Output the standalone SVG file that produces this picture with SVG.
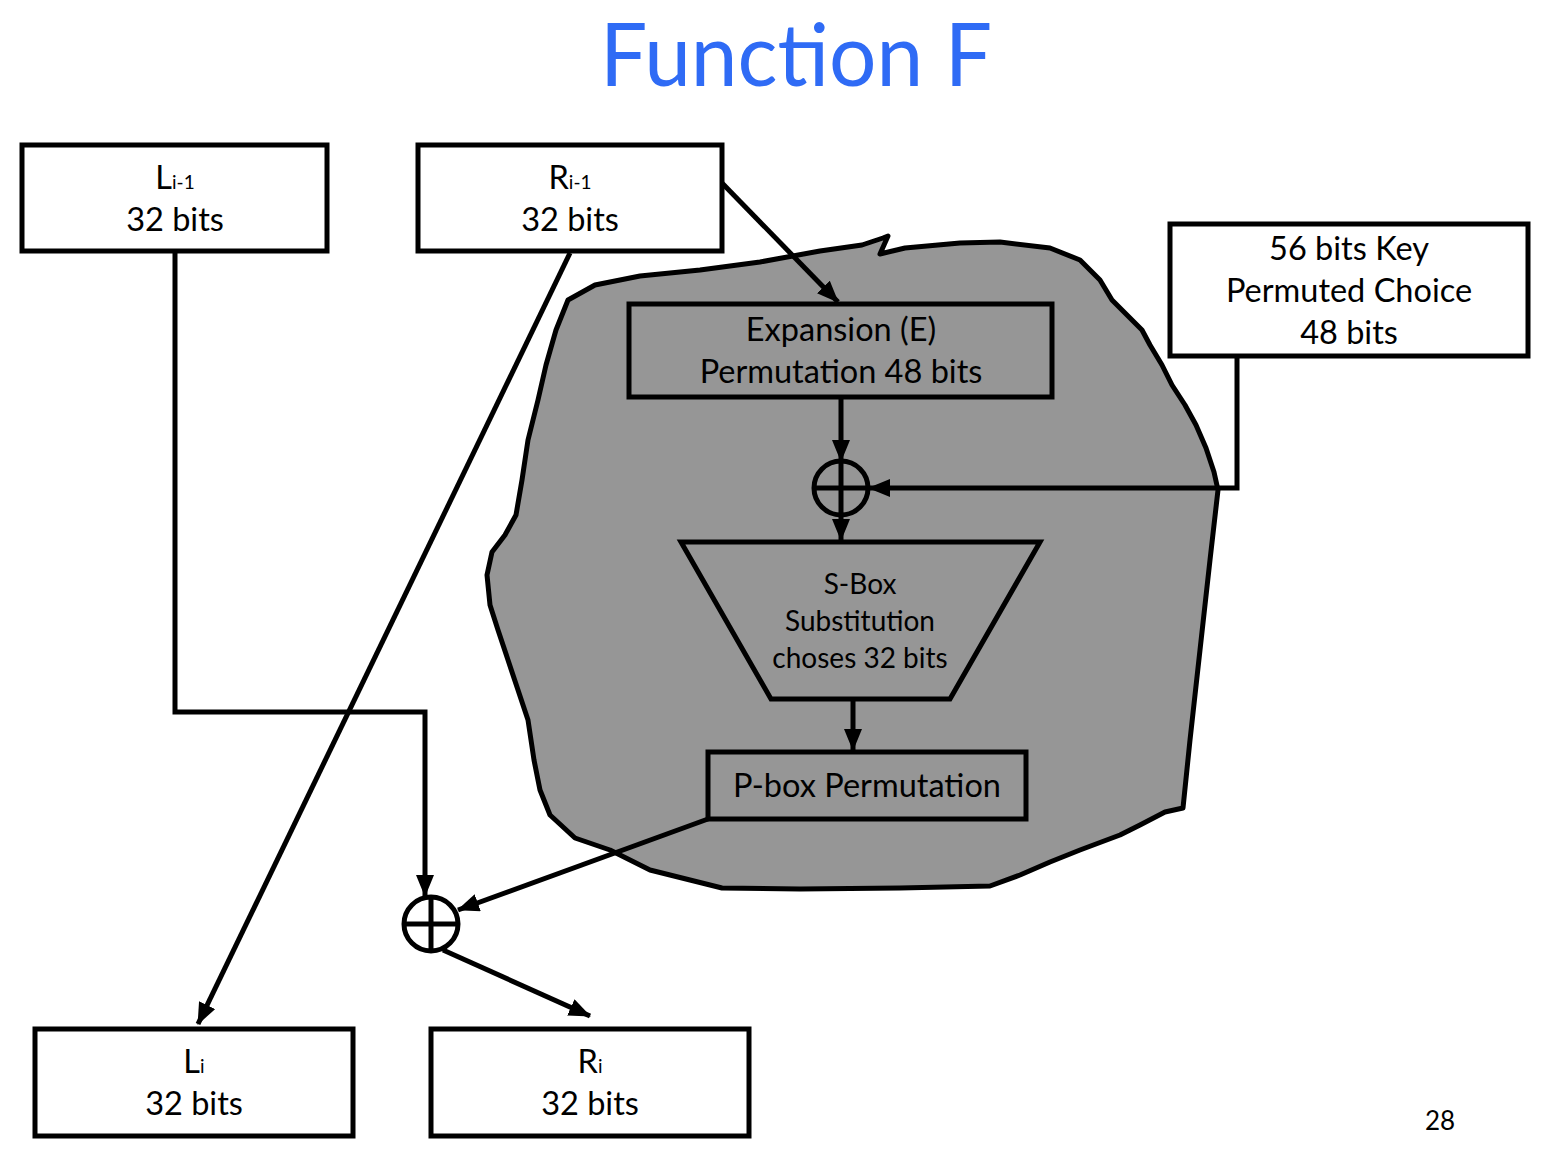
<svg xmlns="http://www.w3.org/2000/svg" width="1556" height="1158" viewBox="0 0 1556 1158">
<defs>
<marker id="ah" markerUnits="userSpaceOnUse" markerWidth="22" markerHeight="18" refX="21" refY="9" orient="auto">
<path d="M0,0 L22,9 L0,18 z" fill="#000"/>
</marker>
<style>
.box{fill:#fff;stroke:#000;stroke-width:5}
.gbox{fill:#969696;stroke:#000;stroke-width:5}
.t{font-family:Lato,"Open Sans",sans-serif;font-size:32.5px;fill:#000;text-anchor:middle}
.ts{font-family:Lato,"Open Sans",sans-serif;font-size:28px;fill:#000;text-anchor:middle}
.sub{font-size:19px}
.ln{fill:none;stroke:#000;stroke-width:5}
.arr{fill:none;stroke:#000;stroke-width:5;marker-end:url(#ah)}
.xor{fill:none;stroke:#000;stroke-width:5}
</style>
</defs>
<rect width="1556" height="1158" fill="#fff"/>
<text x="796" y="86" font-family="Lato,'Open Sans',sans-serif" font-size="88" fill="#2F6BF5" text-anchor="middle" textLength="392" lengthAdjust="spacingAndGlyphs">Function F</text>

<g id="blob">
<path d="M568,300 L595,285 L640,276 L700,270 L760,262 L820,251 L862,245 L883,238 L888,236 L880,254 L905,248 L960,243 L1000,242 L1050,248 L1080,260 L1100,280 L1112,300 L1130,318 L1142,330 L1150,345 L1162,365 L1172,385 L1185,405 L1196,425 L1206,448 L1214,472 L1218,490 L1210,560 L1200,650 L1190,740 L1183,808 L1165,812 L1140,825 L1120,835 L1080,850 L1050,862 L1020,875 L990,886 L900,888 L800,889 L722,888 L690,880 L650,870 L610,850 L575,838 L550,815 L540,790 L534,760 L528,720 L518,690 L508,660 L498,630 L490,605 L487,575 L492,552 L505,535 L516,515 L522,480 L528,440 L538,400 L546,365 L556,330 Z" fill="#969696" stroke="#000" stroke-width="5" stroke-linejoin="round"/>
</g>

<g id="connectors">
<path class="arr" d="M175,251 L175,712 L425,712 L425,896"/>
<path class="arr" d="M570,253 L198,1024"/>
<path class="arr" d="M722,183 L838,302"/>
<path class="arr" d="M841,397 L841,461"/>
<path class="arr" d="M841,515 L841,540"/>
<path class="arr" d="M1237,356 L1237,488 L869,488"/>
<path class="arr" d="M853,699 L853,750"/>
<path class="arr" d="M708,819 L458,910"/>
<path class="arr" d="M443,950 L590,1016"/>
</g>

<g id="xor1">
<circle cx="841" cy="488" r="27" class="xor"/>
<line x1="814" y1="488" x2="868" y2="488" class="xor"/>
<line x1="841" y1="461" x2="841" y2="515" class="xor"/>
</g>
<g id="xor2">
<circle cx="431" cy="924" r="27" class="xor"/>
<line x1="404" y1="924" x2="458" y2="924" class="xor"/>
<line x1="431" y1="897" x2="431" y2="951" class="xor"/>
</g>

<g id="Li-1">
<rect class="box" x="22" y="145" width="305" height="106"/>
<text class="t" x="175" y="189">L<tspan class="sub">i-1</tspan></text>
<text class="t" x="175" y="231">32 bits</text>
</g>
<g id="Ri-1">
<rect class="box" x="418" y="145" width="304" height="106"/>
<text class="t" x="570" y="189">R<tspan class="sub">i-1</tspan></text>
<text class="t" x="570" y="231">32 bits</text>
</g>
<g id="key">
<rect class="box" x="1170" y="224" width="358" height="132"/>
<text class="t" x="1349" y="260">56 bits Key</text>
<text class="t" x="1349" y="302">Permuted Choice</text>
<text class="t" x="1349" y="344">48 bits</text>
</g>
<g id="expansion">
<rect class="gbox" x="629" y="304" width="423" height="93"/>
<text class="t" x="841" y="341">Expansion (E)</text>
<text class="t" x="841" y="383">Permutation 48 bits</text>
</g>
<g id="sbox">
<polygon class="gbox" points="681,542 1040,542 950,699 771,699"/>
<text class="ts" x="860" y="594">S-Box</text>
<text class="ts" x="860" y="631">Substitution</text>
<text class="ts" x="860" y="668">choses 32 bits</text>
</g>
<g id="pbox">
<rect class="gbox" x="708" y="752" width="318" height="67"/>
<text class="t" x="867" y="797">P-box Permutation</text>
</g>
<g id="Li">
<rect class="box" x="35" y="1029" width="318" height="107"/>
<text class="t" x="194" y="1073">L<tspan class="sub">i</tspan></text>
<text class="t" x="194" y="1115">32 bits</text>
</g>
<g id="Ri">
<rect class="box" x="431" y="1029" width="318" height="107"/>
<text class="t" x="590" y="1073">R<tspan class="sub">i</tspan></text>
<text class="t" x="590" y="1115">32 bits</text>
</g>
<text x="1440" y="1130" font-family="Lato,'Open Sans',sans-serif" font-size="26" text-anchor="middle">28</text>
</svg>
